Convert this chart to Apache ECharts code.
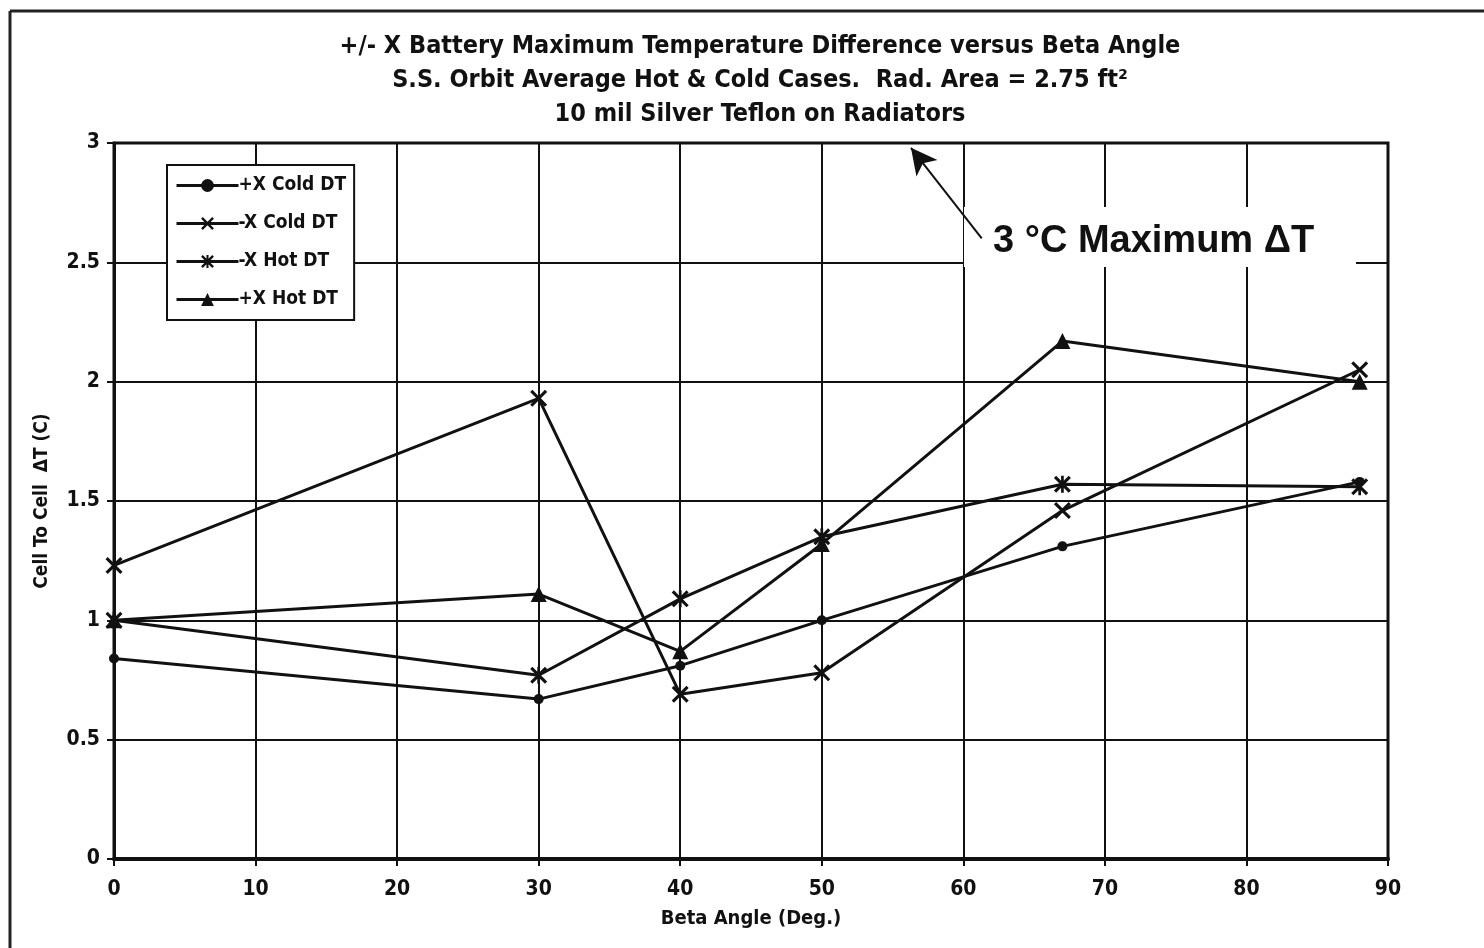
<!DOCTYPE html>
<html>
<head>
<meta charset="utf-8">
<script src="https://cdn.jsdelivr.net/npm/echarts@6/dist/echarts.min.js"></script>
<style>
html,body{margin:0;padding:0;background:#fff;}
#chart{width:1484px;height:948px;}
</style>
</head>
<body>
<div id="chart"></div>
<script>
const titleLines = [
  '+/- X Battery Maximum Temperature Difference versus Beta Angle',
  'S.S. Orbit Average Hot & Cold Cases.  Rad. Area = 2.75 ft\u00B2',
  '10 mil Silver Teflon on Radiators'
];
const xAxisName = 'Beta Angle (Deg.)';
const yAxisName = 'Cell To Cell  \u0394T (C)';
const annotationText = '3 \u00B0C Maximum \u0394T';
const annotationArrow = [[61.3, 2.60], [56.3, 2.98]];

const betaAngles = [0, 30, 40, 50, 67, 88];
const plusXColdDT  = [0.84, 0.67, 0.81, 1.00, 1.31, 1.58];
const minusXColdDT = [1.23, 1.93, 0.69, 0.78, 1.46, 2.05];
const minusXHotDT  = [1.00, 0.77, 1.09, 1.35, 1.57, 1.56];
const plusXHotDT   = [1.00, 1.11, 0.87, 1.32, 2.17, 2.00];

const seriesNames = ['+X Cold DT', '-X Cold DT', '-X Hot DT', '+X Hot DT'];

const FONT = "'Liberation Sans Narrow', 'DejaVu Sans Condensed', 'Liberation Sans', sans-serif";
const crossPath = 'path://M0,1.3 L1.3,0 L5,3.7 L8.7,0 L10,1.3 L6.3,5 L10,8.7 L8.7,10 L5,6.3 L1.3,10 L0,8.7 L3.7,5 Z';
const starPath = 'path://M0,1.3 L1.3,0 L5,3.7 L8.7,0 L10,1.3 L6.3,5 L10,8.7 L8.7,10 L5,6.3 L1.3,10 L0,8.7 L3.7,5 Z M4.2,0 L5.8,0 L5.8,10 L4.2,10 Z';

function pairs(vals){ return betaAngles.map((x,i)=>[x, vals[i]]); }

const chart = echarts.init(document.getElementById('chart'));

function mkSeries(name, vals, symbol, size){
  return {
    name: name, type: 'line', data: pairs(vals),
    symbol: symbol, symbolSize: size, showAllSymbol: true,
    lineStyle: {color: '#111', width: 3},
    itemStyle: {color: '#111'},
    emphasis: {disabled: true},
    animation: false
  };
}

const series = [
  mkSeries(seriesNames[0], plusXColdDT, 'circle', 10),
  mkSeries(seriesNames[1], minusXColdDT, crossPath, 17),
  mkSeries(seriesNames[2], minusXHotDT, starPath, 17),
  mkSeries(seriesNames[3], plusXHotDT, 'triangle', 16)
];
// annotation arrow in data coordinates
series.push({
  type: 'line', name: 'arrow', data: [], silent: true, animation: false, z: 5,
  markLine: {
    silent: true, animation: false,
    symbol: ['none', 'arrow'], symbolSize: [20, 26],
    lineStyle: {color: '#111', width: 2, type: 'solid'},
    label: {show: false},
    data: [[{coord: annotationArrow[0]}, {coord: annotationArrow[1]}]]
  }
});

const option = {
  backgroundColor: '#fff',
  animation: false,
  title: {
    text: titleLines.join('\n'),
    left: 755, top: 24, textAlign: 'center',
    textStyle: {fontFamily: FONT, fontWeight: 'bold', fontSize: 25, color: '#111', lineHeight: 34}
  },
  legend: {
    data: seriesNames,
    orient: 'vertical',
    left: 167, top: 165,
    width: 182, height: 154,
    padding: [11, 8, 11, 8],
    itemGap: 19,
    itemWidth: 62, itemHeight: 16,
    borderColor: '#111', borderWidth: 2,
    backgroundColor: '#fff',
    lineStyle: {width: 3, color: '#111'},
    textStyle: {fontFamily: FONT, fontWeight: 'bold', fontSize: 19, color: '#111', padding: [0,0,0,-5]},
    selectedMode: false
  },
  grid: {
    left: 114, right: 96, top: 143, bottom: 89,
    show: true, borderColor: '#111', borderWidth: 3, backgroundColor: 'transparent'
  },
  xAxis: {
    type: 'value', min: 0, max: 90, interval: 10,
    name: xAxisName, nameLocation: 'middle', nameGap: 50,
    nameTextStyle: {fontFamily: FONT, fontWeight: 'bold', fontSize: 20, color: '#111'},
    axisLine: {show: true, lineStyle: {color: '#111', width: 4}},
    axisTick: {show: true, length: 7, lineStyle: {color: '#111', width: 2}},
    axisLabel: {fontFamily: FONT, fontWeight: 'bold', fontSize: 21, color: '#111', margin: 20},
    splitLine: {show: true, lineStyle: {color: '#111', width: 2}}
  },
  yAxis: {
    type: 'value', min: 0, max: 3, interval: 0.5,
    name: yAxisName, nameLocation: 'middle', nameGap: 62, nameRotate: 90,
    nameTextStyle: {fontFamily: FONT, fontWeight: 'bold', fontSize: 19, color: '#111'},
    axisLine: {show: true, lineStyle: {color: '#111', width: 3}},
    axisTick: {show: true, length: 7, lineStyle: {color: '#111', width: 2}},
    axisLabel: {fontFamily: FONT, fontWeight: 'bold', fontSize: 21, color: '#111', margin: 14},
    splitLine: {show: true, lineStyle: {color: '#111', width: 2}}
  },
  graphic: [
    {type: 'line', shape: {x1: 10, y1: 11, x2: 1484, y2: 11}, style: {stroke: '#222', lineWidth: 3}, z: 10},
    {type: 'line', shape: {x1: 10, y1: 11, x2: 10, y2: 948}, style: {stroke: '#222', lineWidth: 3}, z: 10},
    {type: 'rect', shape: {x: 964, y: 207, width: 392, height: 60}, style: {fill: '#fff'}, z: 1},
    {type: 'text', left: 993, top: 223, z: 60,
     style: {text: annotationText, font: "bold 38px 'Liberation Sans', Arial, sans-serif", fill: '#111'}}
  ],
  series: series
};
chart.setOption(option);
</script>
</body>
</html>
